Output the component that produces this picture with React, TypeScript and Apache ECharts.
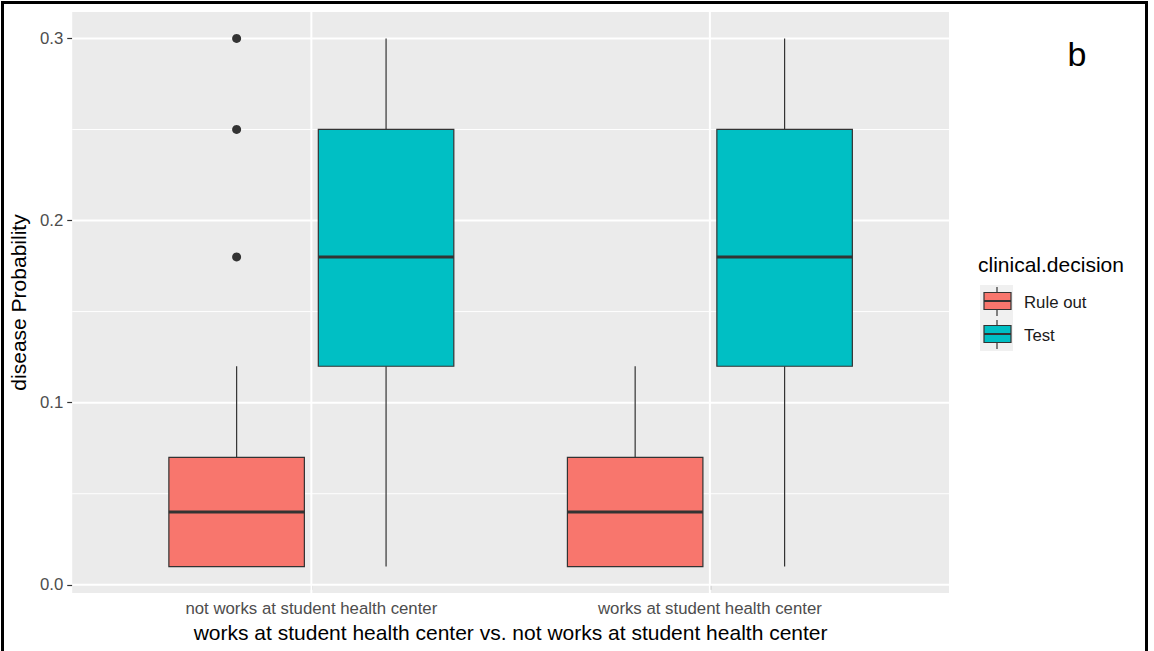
import React, { useEffect, useRef } from "react";
import * as echarts from "echarts";

// ---- data ----
const groups = ["not works at student health center", "works at student health center"];
const decisions = ["Rule out", "Test"];
// [low whisker, Q1, median, Q3, high whisker] per group
const ruleOutStats = [
  [0.01, 0.01, 0.04, 0.07, 0.12],
  [0.01, 0.01, 0.04, 0.07, 0.12],
];
const testStats = [
  [0.01, 0.12, 0.18, 0.25, 0.3],
  [0.01, 0.12, 0.18, 0.25, 0.3],
];
// [group index (1-based), value]
const ruleOutOutliers = [
  [1, 0.18],
  [1, 0.25],
  [1, 0.3],
];
const yTicks = [0, 0.1, 0.2, 0.3];
const yMinor = [0.05, 0.15, 0.25];
const xTicks = [1, 2];

const FONT = "'Liberation Sans', Arial, Helvetica, sans-serif";
const COLORS = ["#F8766D", "#00BFC4"];
const DODGE = 0.1875;
const BOX_HALF = 0.17;

function boxSeries(name: string, stats: number[][], offset: number, color: string) {
  return {
    type: "custom",
    name,
    z: 3,
    data: stats.map((s, i) => [i + 1, ...s]),
    encode: { x: 0, y: [1, 2, 3, 4, 5] },
    renderItem: (params: any, api: any) => {
      const x = api.value(0) + offset;
      const low = api.value(1),
        q1 = api.value(2),
        med = api.value(3),
        q3 = api.value(4),
        high = api.value(5);
      const pTL = api.coord([x - BOX_HALF, q3]);
      const pBR = api.coord([x + BOX_HALF, q1]);
      const pHigh = api.coord([x, high]);
      const pLow = api.coord([x, low]);
      const pMed = api.coord([x, med]);
      const lineStyle = { stroke: "#333333", lineWidth: 1.2 };
      return {
        type: "group",
        children: [
          { type: "line", shape: { x1: pHigh[0], y1: pHigh[1], x2: pHigh[0], y2: pTL[1] }, style: lineStyle },
          { type: "line", shape: { x1: pLow[0], y1: pBR[1], x2: pLow[0], y2: pLow[1] }, style: lineStyle },
          {
            type: "rect",
            shape: { x: pTL[0], y: pTL[1], width: pBR[0] - pTL[0], height: pBR[1] - pTL[1] },
            style: { fill: color, stroke: "#333333", lineWidth: 1.2 },
          },
          { type: "line", shape: { x1: pTL[0], y1: pMed[1], x2: pBR[0], y2: pMed[1] }, style: { stroke: "#333333", lineWidth: 3 } },
        ],
      };
    },
  };
}

function hGridSeries(values: number[], width: number) {
  return {
    type: "custom",
    z: 1,
    silent: true,
    data: values.map((v) => [1, v]),
    encode: { x: 0, y: 1 },
    renderItem: (params: any, api: any) => {
      const cs = params.coordSys;
      const y = api.coord([1, api.value(1)])[1];
      return {
        type: "line",
        shape: { x1: cs.x, y1: y, x2: cs.x + cs.width, y2: y },
        style: { stroke: "#FFFFFF", lineWidth: width },
      };
    },
  };
}

function vGridSeries(values: number[], width: number) {
  return {
    type: "custom",
    z: 1,
    silent: true,
    data: values.map((v) => [v, 0.1]),
    encode: { x: 0, y: 1 },
    renderItem: (params: any, api: any) => {
      const cs = params.coordSys;
      const x = api.coord([api.value(0), 0.1])[0];
      return {
        type: "line",
        shape: { x1: x, y1: cs.y, x2: x, y2: cs.y + cs.height },
        style: { stroke: "#FFFFFF", lineWidth: width },
      };
    },
  };
}

function legendGraphics() {
  const items: any[] = [];
  items.push({
    type: "text",
    left: 978,
    top: 254,
    style: { text: "clinical.decision", fontSize: 21, fill: "#000000", fontFamily: FONT },
  });
  decisions.forEach((d, i) => {
    const y0 = 285 + i * 33;
    items.push({ type: "rect", shape: { x: 980, y: y0, width: 33, height: 33 }, style: { fill: "#F0F0F0" } });
    items.push({
      type: "line",
      shape: { x1: 997, y1: y0 + 2, x2: 997, y2: y0 + 31 },
      style: { stroke: "#333333", lineWidth: 1.2 },
    });
    items.push({
      type: "rect",
      shape: { x: 984, y: y0 + 7.5, width: 27, height: 17 },
      style: { fill: COLORS[i], stroke: "#333333", lineWidth: 1.2 },
    });
    items.push({
      type: "line",
      shape: { x1: 984, y1: y0 + 16, x2: 1011, y2: y0 + 16 },
      style: { stroke: "#333333", lineWidth: 2 },
    });
    items.push({
      type: "text",
      x: 1024,
      y: y0 + 17,
      style: { text: d, fontSize: 16.8, fill: "#1A1A1A", fontFamily: FONT, verticalAlign: "middle" },
    });
  });
  return items;
}

export default function App() {
  const ref = useRef<HTMLDivElement>(null);
  useEffect(() => {
    if (!ref.current) return;
    const chart = echarts.init(ref.current, null, { renderer: "svg" });
    chart.setOption({
      animation: false,
      backgroundColor: "#FFFFFF",
      textStyle: { fontFamily: FONT },
      grid: {
        left: 71,
        top: 12,
        width: 878,
        height: 581,
        show: true,
        backgroundColor: "#EBEBEB",
        borderWidth: 0,
        containLabel: false,
      },
      xAxis: {
        type: "value",
        min: 0.4,
        max: 2.6,
        axisLine: { show: false },
        splitLine: { show: false },
        axisTick: { show: true, customValues: xTicks, length: 5, lineStyle: { color: "#333333", width: 1.2 } },
        axisLabel: {
          customValues: xTicks,
          formatter: (v: number) => groups[Math.round(v) - 1] || "",
          fontSize: 16.8,
          color: "#4D4D4D",
          margin: 7,
        },
        name: "works at student health center vs. not works at student health center",
        nameLocation: "middle",
        nameGap: 29,
        nameTextStyle: { fontSize: 21, color: "#000000" },
      },
      yAxis: {
        type: "value",
        min: -0.0045,
        max: 0.3145,
        axisLine: { show: false },
        splitLine: { show: false },
        axisTick: { show: true, customValues: yTicks, length: 5, lineStyle: { color: "#333333", width: 1.2 } },
        axisLabel: {
          customValues: yTicks,
          formatter: (v: number) => v.toFixed(1),
          fontSize: 16.8,
          color: "#4D4D4D",
          margin: 9,
        },
        name: "disease Probability",
        nameLocation: "middle",
        nameRotate: 90,
        nameGap: 38,
        nameTextStyle: { fontSize: 21, color: "#000000" },
      },
      series: [
        hGridSeries(yMinor, 1),
        hGridSeries(yTicks, 2),
        vGridSeries(xTicks, 2),
        boxSeries(decisions[0], ruleOutStats, -DODGE, COLORS[0]),
        boxSeries(decisions[1], testStats, DODGE, COLORS[1]),
        {
          type: "scatter",
          z: 4,
          data: ruleOutOutliers.map(([g, v]) => [g - DODGE, v]),
          symbolSize: 9,
          itemStyle: { color: "#333333", opacity: 1 },
        },
      ],
      graphic: [
        {
          type: "rect",
          shape: { x: 2.5, y: 2.5, width: 1144, height: 700 },
          style: { fill: "none", stroke: "#000000", lineWidth: 3 },
          z: 10,
        },
        {
          type: "text",
          x: 1077,
          y: 54,
          style: { text: "b", fontSize: 34, fill: "#000000", fontFamily: FONT, align: "center", verticalAlign: "middle" },
        },
        ...legendGraphics(),
      ],
    });
    return () => chart.dispose();
  }, []);
  return (
    <div
      ref={ref}
      style={{ position: "fixed", left: 0, top: 0, width: 1154, height: 651, background: "#fff" }}
    />
  );
}
